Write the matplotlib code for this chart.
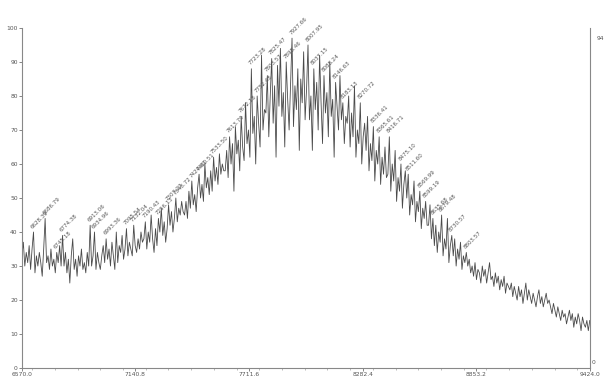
"""Scanned MALDI-style spectrum: intensity vs m/z with labelled peaks."""

import matplotlib
matplotlib.use("Agg")
import matplotlib.pyplot as plt
import numpy as np

# m/z range of the trace
mz_start = 6570.0
mz_end = 9424.0
xtick_values = [6570.0, 7140.8, 7711.6, 8282.4, 8853.2, 9424.0]
ytick_values = [0, 10, 20, 30, 40, 50, 60, 70, 80, 90, 100]

# relative intensity (%), left to right
seg_1 = [33, 37, 30, 34, 31, 36, 29, 35, 40, 28, 33, 30, 34, 31, 27, 35, 44, 31, 33, 29, 35, 30, 32, 28, 34, 31, 36, 30]
seg_2 = [39, 30, 34, 28, 32, 25, 33, 38, 29, 32, 27, 33, 30, 35, 29, 31, 28, 34, 30, 42, 30, 33, 40, 29, 34, 31, 29, 33]
seg_3 = [36, 31, 38, 32, 35, 30, 37, 33, 29, 40, 31, 36, 34, 39, 32, 35, 41, 33, 37, 35, 33, 42, 36, 34, 38, 35, 40, 37]
seg_4 = [38, 43, 35, 40, 37, 45, 38, 34, 41, 36, 44, 40, 47, 39, 43, 37, 41, 48, 42, 46, 40, 44, 50, 43, 47, 45, 49, 46]
seg_5 = [45, 49, 44, 52, 47, 55, 48, 51, 46, 53, 57, 50, 54, 49, 60, 53, 56, 51, 58, 52, 62, 55, 59, 54, 63, 57, 60, 58]
seg_6 = [58, 64, 56, 68, 60, 66, 52, 71, 63, 67, 58, 74, 65, 61, 78, 66, 70, 62, 88, 69, 74, 60, 80, 72, 65, 92, 70, 76]
seg_7 = [75, 86, 68, 80, 91, 72, 83, 62, 89, 77, 94, 74, 81, 65, 90, 79, 70, 84, 97, 71, 83, 76, 88, 64, 85, 78, 93, 73]
seg_8 = [82, 95, 73, 80, 64, 88, 76, 84, 70, 92, 78, 66, 86, 75, 81, 68, 90, 74, 79, 62, 84, 77, 70, 86, 73, 78, 66, 74]
seg_9 = [72, 80, 65, 75, 68, 83, 62, 70, 66, 78, 60, 68, 72, 64, 74, 58, 66, 61, 71, 55, 64, 60, 68, 54, 62, 57, 65, 56]
seg_10 = [57, 68, 52, 60, 55, 64, 49, 56, 52, 60, 47, 54, 58, 50, 57, 45, 51, 48, 55, 43, 49, 46, 52, 41, 47, 44, 49, 42]
seg_11 = [42, 48, 38, 44, 36, 42, 34, 40, 37, 45, 33, 38, 35, 44, 31, 36, 39, 33, 38, 30, 35, 32, 37, 29, 33, 31, 34, 30]
seg_12 = [32, 28, 30, 27, 31, 26, 29, 28, 25, 30, 27, 29, 25, 28, 31, 26, 27, 24, 28, 25, 27, 23, 26, 24, 27, 22, 25, 24]
seg_13 = [23, 25, 21, 24, 22, 20, 24, 21, 23, 19, 22, 25, 20, 23, 21, 19, 22, 20, 18, 21, 23, 19, 21, 18, 20, 22, 19, 20]
seg_14 = [18, 16, 19, 17, 15, 18, 16, 14, 17, 15, 16, 13, 15, 17, 14, 16, 12, 15, 13, 16, 14, 11, 15, 13, 12, 14, 11, 14]

# approximate m/z of the peaks carrying a label
label_mz = [6635, 6686, 6736, 6786, 6922, 6952, 6982, 7088, 7138, 7188, 7238,
            7289, 7339, 7414, 7464, 7540, 7605, 7665, 7716, 7756, 7796, 7841,
            7892, 7942, 7992, 8042, 8093, 8143, 8193, 8268, 8329, 8379, 8429,
            8469, 8520, 8570, 8610, 8650, 8696, 8746, 8796]

intensity = np.array(seg_1 + seg_2 + seg_3 + seg_4 + seg_5 + seg_6 + seg_7
                     + seg_8 + seg_9 + seg_10 + seg_11 + seg_12 + seg_13 + seg_14,
                     dtype=float)
mz = np.linspace(mz_start, mz_end, len(intensity))

fig = plt.figure(figsize=(6.08, 3.83), dpi=100)
ax = fig.add_axes([0.036, 0.039, 0.934, 0.888])
ax.plot(mz, intensity, color="#4a4a4a", linewidth=0.6)

# peak labels, rotated like the instrument printout
for m in label_mz:
    i = int(np.argmin(np.abs(mz - m)))
    lo, hi = max(i - 2, 0), min(i + 3, len(intensity))
    j = lo + int(np.argmax(intensity[lo:hi]))
    ax.text(mz[j], intensity[j] + 0.8, f"{mz[j]:.2f}", rotation=45,
            rotation_mode="anchor", ha="left", va="bottom",
            fontsize=4, color="#555555")

ax.set_xlim(mz_start, mz_end)
ax.set_ylim(0, 100)
ax.set_xticks(xtick_values)
ax.set_xticklabels([f"{v:.1f}" for v in xtick_values])
ax.set_yticks(ytick_values)
ax.tick_params(axis="both", labelsize=4.3, colors="#555555", length=2,
               width=0.5, pad=1)
ax.xaxis.set_minor_locator(matplotlib.ticker.MultipleLocator(114.16))
ax.tick_params(axis="x", which="minor", length=1.2, width=0.4, colors="#888888")

for side in ["left", "bottom", "right"]:
    ax.spines[side].set_color("#888888")
    ax.spines[side].set_linewidth(0.8)
ax.spines["top"].set_visible(False)

ax.text(1.004, 0.01, "0", transform=ax.transAxes, fontsize=4.3,
        color="#555555", ha="left", va="bottom")
ax.text(1.012, 0.97, "94", transform=ax.transAxes, fontsize=4.3,
        color="#555555", ha="left", va="center")

fig.savefig("out.png", dpi=100)
